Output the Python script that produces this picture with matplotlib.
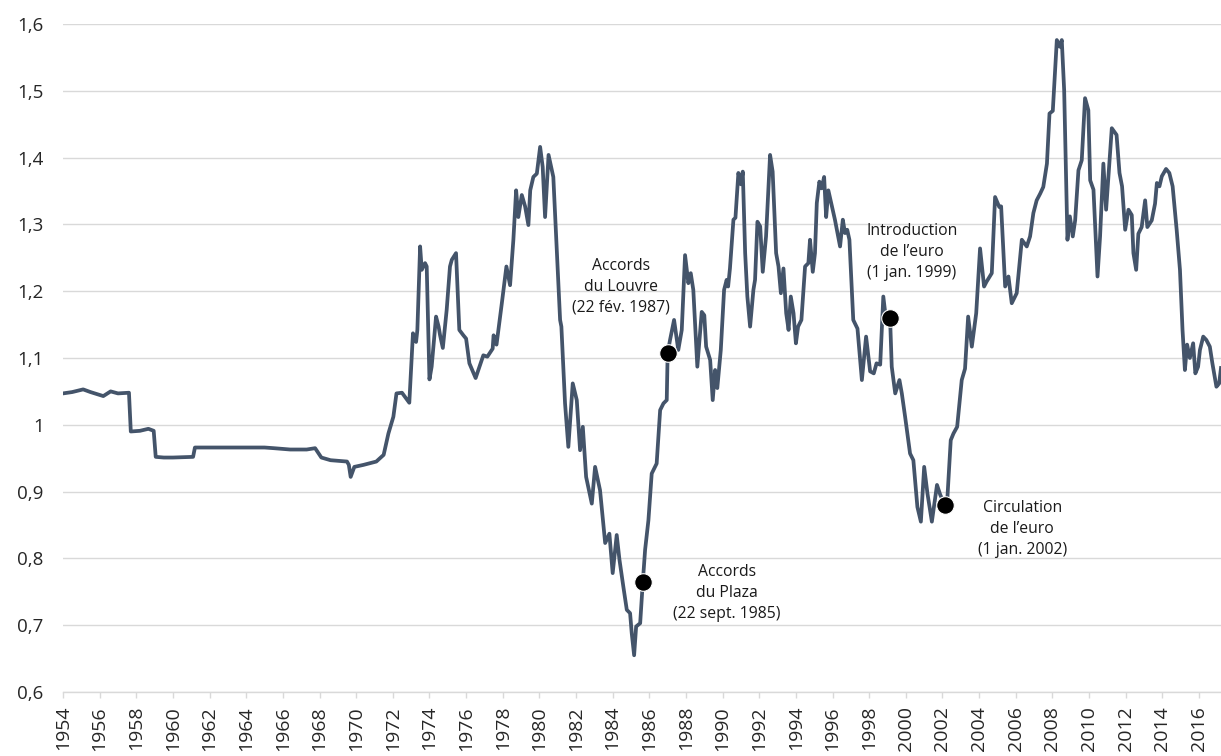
import matplotlib
matplotlib.use("Agg")
import matplotlib.pyplot as plt

years = [1954.0, 1954.5, 1955.1, 1955.5, 1956.2, 1956.6, 1957.0, 1957.6, 1957.7, 1958.2,
         1958.66, 1958.95, 1959.06, 1959.5, 1960.0, 1961.1, 1961.2, 1962.9, 1964.4, 1965.0,
         1965.5, 1966.4, 1967.3, 1967.76, 1968.1, 1968.6, 1969.5, 1969.6, 1969.7, 1969.9,
         1970.4, 1971.1, 1971.5, 1971.76, 1972.03, 1972.2, 1972.5, 1972.9, 1973.1, 1973.27,
         1973.34, 1973.49, 1973.58, 1973.76, 1973.85, 1974.0, 1974.12, 1974.36, 1974.5, 1974.58,
         1974.73, 1974.94, 1975.12, 1975.22, 1975.45, 1975.63, 1975.85, 1976.0, 1976.18, 1976.52,
         1976.94, 1977.16, 1977.45, 1977.5, 1977.66, 1977.95, 1978.2, 1978.4, 1978.58, 1978.73,
         1978.85, 1979.04, 1979.22, 1979.4, 1979.5, 1979.67, 1979.86, 1980.04, 1980.18, 1980.31,
         1980.5, 1980.76, 1981.13, 1981.2, 1981.4, 1981.58, 1981.82, 1982.04, 1982.22, 1982.37,
         1982.55, 1982.86, 1983.04, 1983.31, 1983.59, 1983.82, 1984.0, 1984.22, 1984.37, 1984.58,
         1984.77, 1984.95, 1985.04, 1985.17, 1985.28, 1985.5, 1985.64, 1985.77, 1985.95, 1986.13,
         1986.4, 1986.59, 1986.77, 1986.95, 1987.0, 1987.13, 1987.35, 1987.58, 1987.77, 1987.95,
         1988.13, 1988.26, 1988.4, 1988.62, 1988.86, 1989.0, 1989.1, 1989.32, 1989.46, 1989.59,
         1989.71, 1989.9, 1990.08, 1990.22, 1990.3, 1990.4, 1990.59, 1990.7, 1990.86, 1991.0,
         1991.1, 1991.23, 1991.35, 1991.5, 1991.68, 1991.77, 1991.9, 1992.05, 1992.19, 1992.37,
         1992.59, 1992.73, 1992.92, 1993.05, 1993.18, 1993.32, 1993.47, 1993.6, 1993.72, 1993.87,
         1994.0, 1994.12, 1994.3, 1994.5, 1994.68, 1994.77, 1994.92, 1995.04, 1995.14, 1995.28,
         1995.4, 1995.54, 1995.65, 1995.77, 1995.95, 1996.13, 1996.41, 1996.56, 1996.68, 1996.8,
         1996.92, 1997.13, 1997.36, 1997.6, 1997.83, 1998.05, 1998.25, 1998.4, 1998.6, 1998.77,
         1998.92, 1999.14, 1999.23, 1999.42, 1999.65, 1999.78, 1999.96, 2000.23, 2000.41, 2000.63,
         2000.82, 2001.0, 2001.18, 2001.42, 2001.7, 2001.88, 2002.14, 2002.27, 2002.45, 2002.6,
         2002.8, 2003.05, 2003.23, 2003.4, 2003.6, 2003.84, 2004.05, 2004.27, 2004.4, 2004.69,
         2004.87, 2005.1, 2005.2, 2005.42, 2005.6, 2005.78, 2006.05, 2006.33, 2006.6, 2006.78,
         2006.96, 2007.14, 2007.33, 2007.5, 2007.7, 2007.84, 2008.02, 2008.24, 2008.4, 2008.51,
         2008.64, 2008.82, 2008.95, 2009.11, 2009.24, 2009.42, 2009.6, 2009.78, 2009.96, 2010.06,
         2010.24, 2010.46, 2010.6, 2010.78, 2010.93, 2011.11, 2011.24, 2011.5, 2011.66, 2011.8,
         2011.97, 2012.15, 2012.33, 2012.42, 2012.57, 2012.69, 2012.87, 2013.06, 2013.18, 2013.42,
         2013.6, 2013.7, 2013.84, 2013.97, 2014.2, 2014.38, 2014.56, 2014.78, 2014.96, 2015.1,
         2015.23, 2015.35, 2015.5, 2015.68, 2015.8, 2015.95, 2016.05, 2016.23, 2016.4, 2016.59,
         2016.73, 2016.95, 2017.1, 2017.2]

rates = [1.047, 1.049, 1.053, 1.049, 1.043, 1.050, 1.047, 1.048, 0.990, 0.991,
         0.994, 0.991, 0.952, 0.951, 0.951, 0.952, 0.966, 0.966, 0.966, 0.966,
         0.965, 0.963, 0.963, 0.965, 0.951, 0.947, 0.945, 0.940, 0.922, 0.937,
         0.940, 0.945, 0.955, 0.987, 1.012, 1.047, 1.048, 1.033, 1.137, 1.124,
         1.142, 1.267, 1.232, 1.242, 1.237, 1.068, 1.087, 1.162, 1.147, 1.134,
         1.115, 1.172, 1.237, 1.247, 1.257, 1.142, 1.134, 1.129, 1.092, 1.070,
         1.104, 1.102, 1.114, 1.134, 1.120, 1.182, 1.237, 1.209, 1.277, 1.351,
         1.311, 1.344, 1.327, 1.299, 1.351, 1.371, 1.376, 1.416, 1.386, 1.311,
         1.404, 1.371, 1.157, 1.147, 1.032, 0.967, 1.062, 1.037, 0.962, 0.997,
         0.922, 0.882, 0.937, 0.902, 0.823, 0.837, 0.778, 0.835, 0.798, 0.758,
         0.723, 0.718, 0.688, 0.655, 0.698, 0.703, 0.763, 0.813, 0.857, 0.927,
         0.942, 1.022, 1.032, 1.037, 1.107, 1.127, 1.157, 1.112, 1.142, 1.254,
         1.212, 1.227, 1.202, 1.087, 1.169, 1.164, 1.117, 1.097, 1.037, 1.082,
         1.055, 1.112, 1.202, 1.217, 1.207, 1.234, 1.307, 1.310, 1.377, 1.360,
         1.379, 1.257, 1.192, 1.147, 1.202, 1.217, 1.304, 1.297, 1.229, 1.282,
         1.404, 1.379, 1.257, 1.237, 1.197, 1.234, 1.167, 1.142, 1.192, 1.167,
         1.122, 1.147, 1.157, 1.237, 1.242, 1.277, 1.229, 1.257, 1.332, 1.364,
         1.354, 1.371, 1.311, 1.351, 1.329, 1.307, 1.267, 1.307, 1.287, 1.292,
         1.277, 1.157, 1.144, 1.067, 1.132, 1.080, 1.077, 1.092, 1.090, 1.192,
         1.157, 1.159, 1.087, 1.047, 1.067, 1.047, 1.012, 0.957, 0.947, 0.877,
         0.855, 0.937, 0.897, 0.855, 0.910, 0.895, 0.880, 0.892, 0.977, 0.987,
         0.997, 1.067, 1.084, 1.162, 1.117, 1.167, 1.264, 1.207, 1.214, 1.227,
         1.341, 1.326, 1.327, 1.207, 1.222, 1.182, 1.197, 1.277, 1.267, 1.282,
         1.317, 1.336, 1.346, 1.356, 1.391, 1.466, 1.470, 1.576, 1.566, 1.576,
         1.501, 1.277, 1.312, 1.282, 1.306, 1.381, 1.396, 1.489, 1.471, 1.366,
         1.352, 1.222, 1.282, 1.391, 1.322, 1.392, 1.444, 1.434, 1.377, 1.357,
         1.292, 1.322, 1.314, 1.257, 1.232, 1.286, 1.296, 1.336, 1.296, 1.306,
         1.331, 1.362, 1.357, 1.372, 1.383, 1.377, 1.357, 1.292, 1.232, 1.142,
         1.082, 1.120, 1.100, 1.122, 1.077, 1.087, 1.112, 1.132, 1.127, 1.117,
         1.092, 1.057, 1.062, 1.085]

event_years = [1985.66, 1987.02, 1999.14, 2002.14]
event_values = [0.765, 1.107, 1.160, 0.880]
event_labels = ["Accords\ndu Plaza\n(22 sept. 1985)",
                "Accords\ndu Louvre\n(22 fév. 1987)",
                "Introduction\nde l\u2019euro\n(1 jan. 1999)",
                "Circulation\nde l\u2019euro\n(1 jan. 2002)"]
label_years = [1990.24, 1984.46, 2000.34, 2006.35]
label_values = [0.748, 1.207, 1.259, 0.844]

x_ticks = list(range(1954, 2017, 2))
y_ticks = [0.6, 0.7, 0.8, 0.9, 1.0, 1.1, 1.2, 1.3, 1.4, 1.5, 1.6]
y_tick_labels = ["0,6", "0,7", "0,8", "0,9", "1", "1,1", "1,2", "1,3", "1,4", "1,5", "1,6"]

plt.rcParams['font.family'] = ['Open Sans', 'DejaVu Sans']

fig = plt.figure(figsize=(12.21, 7.56), dpi=100)
ax = fig.add_axes([63 / 1221, 1 - 692 / 756, (1221 - 63) / 1221, (692 - 24) / 756])

ax.plot(years, rates, color="#44546a", linewidth=2.7, solid_joinstyle="round", zorder=3)
ax.scatter(event_years, event_values, s=160, color="black", edgecolors="white",
           linewidths=0.8, zorder=4)
for lx, ly, txt in zip(label_years, label_values, event_labels):
    ax.text(lx, ly, txt, ha="center", va="center", fontsize=11.3, color="#1a1a1a",
            linespacing=1.4, zorder=5)

ax.set_xlim(1954, 2017.2)
ax.set_ylim(0.6, 1.6)
ax.set_yticks(y_ticks)
ax.set_yticklabels(y_tick_labels)
ax.set_xticks(x_ticks)
ax.set_xticklabels([str(y) for y in x_ticks], rotation=90)

ax.grid(axis="y", color="#d9d9d9", linewidth=1.0, zorder=0)
ax.set_axisbelow(True)
for s in ["top", "right", "left"]:
    ax.spines[s].set_visible(False)
ax.spines["bottom"].set_color("#d9d9d9")
ax.spines["bottom"].set_linewidth(1.0)

ax.tick_params(axis="y", length=0, pad=14, labelsize=13.5, labelcolor="#262626")
ax.tick_params(axis="x", length=4, width=1.0, color="#d9d9d9", pad=6,
               labelsize=14, labelcolor="#262626")

fig.savefig("out.png", dpi=100)
